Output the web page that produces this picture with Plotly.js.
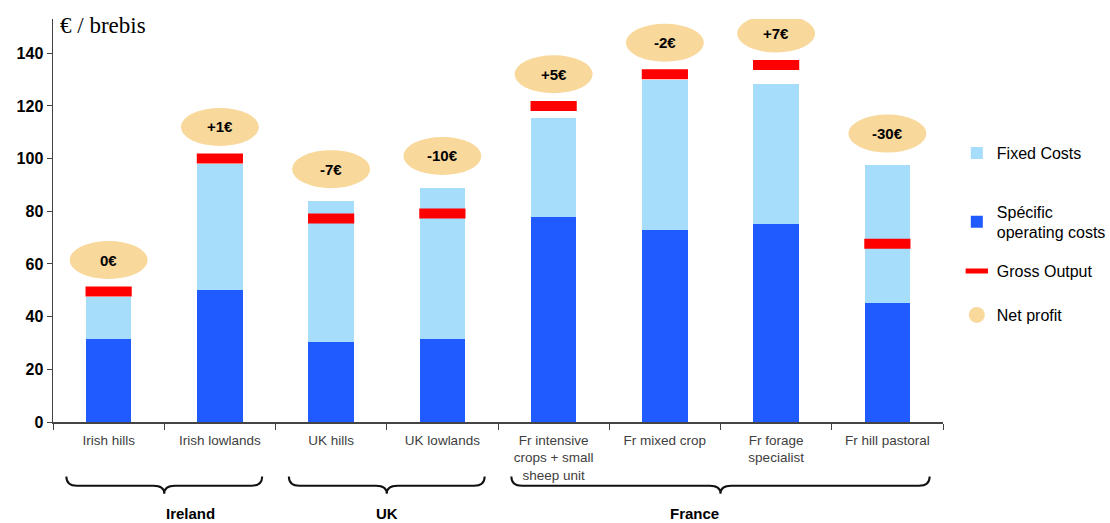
<!DOCTYPE html>
<html>
<head>
<meta charset="utf-8">
<script src="https://cdn.plot.ly/plotly-3.0.1.min.js"></script>
<style>html,body{margin:0;padding:0;background:#fff;}#chart{width:1110px;height:523px;}</style>
</head>
<body>
<div id="chart"></div>
<script>
const categories = ['Irish hills', 'Irish lowlands', 'UK hills', 'UK lowlands',
  'Fr intensive<br>crops + small<br>sheep unit', 'Fr mixed crop', 'Fr forage<br>specialist', 'Fr hill pastoral'];
const specificCosts = [31.5, 50, 30.5, 31.5, 78, 73, 75, 45];
const fixedCosts = [16, 48, 53.5, 57.5, 37.5, 57, 53.5, 52.5];
const grossOutput = [49.5, 100, 77.3, 79.2, 120, 132, 135.5, 67.7];
const netProfit = [0, 1, -7, -10, 5, -2, 7, -30];
const countryOf = ['Ireland', 'Ireland', 'UK', 'UK', 'France', 'France', 'France', 'France'];

const FONT = 'Liberation Sans, Arial, sans-serif';
const N = categories.length;

const traces = [
  {type: 'bar', name: 'Spécific<br>operating costs', x: categories, y: specificCosts,
   marker: {color: '#1F5BFF'}, legend: 'legend2', hoverinfo: 'y'},
  {type: 'bar', name: 'Fixed Costs', x: categories, y: fixedCosts,
   marker: {color: '#A5DDFB'}, legend: 'legend', hoverinfo: 'y'},
  {type: 'scatter', mode: 'markers', name: 'Gross Output', x: categories, y: grossOutput,
   marker: {symbol: 'line-ew', size: 33, color: '#FF0000', line: {color: '#FF0000', width: 10}},
   legend: 'legend3'},
  {type: 'scatter', mode: 'markers', name: 'Net profit', x: [null], y: [null],
   marker: {symbol: 'circle', size: 22, color: '#F9D89C'}, legend: 'legend4'}
];

const shapes = [];
const annotations = [];
const fmt = v => (v > 0 ? '+' : '') + v + '€';
netProfit.forEach((v, i) => {
  const top = Math.max(grossOutput[i], specificCosts[i] + fixedCosts[i]) + 12;
  shapes.push({type: 'circle', xref: 'x', yref: 'y', xsizemode: 'pixel', ysizemode: 'pixel',
    xanchor: i, yanchor: top, x0: -39, x1: 39, y0: -19, y1: 19,
    fillcolor: '#F9D89C', line: {width: 0}, layer: 'below'});
  annotations.push({xref: 'x', yref: 'y', x: i, y: top, text: fmt(v), showarrow: false,
    font: {family: FONT, size: 15, color: '#000', weight: 'bold'}});
});

// group braces
const groups = [];
countryOf.forEach((c, i) => {
  const g = groups.find(o => o.name === c);
  if (g) g.end = i; else groups.push({name: c, start: i, end: i});
});
const px = idx => (idx + 0.5) / N;
const yTop = -0.135, yMid = -0.158, yTip = -0.178;
groups.forEach(g => {
  const x0 = px(g.start - 0.38), x1 = px(g.end + 0.38), xm = px((g.start + g.end) / 2);
  const d = 0.012;
  const path = `M ${x0},${yTop} Q ${x0},${yMid} ${x0 + d},${yMid} L ${xm - d},${yMid} ` +
    `Q ${xm},${yMid} ${xm},${yTip} Q ${xm},${yMid} ${xm + d},${yMid} L ${x1 - d},${yMid} ` +
    `Q ${x1},${yMid} ${x1},${yTop}`;
  shapes.push({type: 'path', xref: 'paper', yref: 'paper', path: path,
    line: {color: '#111', width: 2}});
  annotations.push({xref: 'paper', yref: 'paper', x: xm, y: -0.226, yanchor: 'middle', text: g.name,
    showarrow: false, font: {family: FONT, size: 15, color: '#000', weight: 'bold'}});
});

annotations.push({xref: 'paper', yref: 'paper', x: 0.006, y: 0.985, xanchor: 'left', yanchor: 'middle',
  text: '€ / brebis', showarrow: false,
  font: {family: 'Liberation Serif, serif', size: 23, color: '#000'}});

const legendBase = {xref: 'container', yref: 'container', x: 0.862, xanchor: 'left', yanchor: 'middle',
  font: {family: FONT, size: 16, color: '#000'}, bgcolor: 'rgba(0,0,0,0)'};
const ly = pxY => 1 - pxY / 523;

const layout = {
  width: 1110, height: 523,
  margin: {l: 53, r: 167, t: 19, b: 101, autoexpand: false},
  paper_bgcolor: '#fff', plot_bgcolor: '#fff',
  barmode: 'stack', bargap: 0.59,
  showlegend: true,
  legend: Object.assign({}, legendBase, {y: ly(153)}),
  legend2: Object.assign({}, legendBase, {y: ly(222)}),
  legend3: Object.assign({}, legendBase, {y: ly(271)}),
  legend4: Object.assign({}, legendBase, {y: ly(315)}),
  xaxis: {type: 'category', range: [-0.5, N - 0.5], tickson: 'boundaries', ticks: 'outside',
    ticklen: 6, tickcolor: '#444', showline: true, linecolor: '#444', linewidth: 1.5,
    showgrid: false, zeroline: false, fixedrange: true, ticklabelstandoff: 5,
    tickfont: {family: FONT, size: 13.5, color: '#404040'}},
  yaxis: {range: [0, 153], tickvals: [0, 20, 40, 60, 80, 100, 120, 140], ticks: 'outside',
    ticklen: 5, tickcolor: '#444', showline: true, linecolor: '#444', linewidth: 1.5,
    showgrid: false, zeroline: false, fixedrange: true,
    tickfont: {family: FONT, size: 16, color: '#000', weight: 'bold'}},
  shapes: shapes,
  annotations: annotations
};

Plotly.newPlot('chart', traces, layout, {displayModeBar: false, staticPlot: true});
</script>
</body>
</html>
